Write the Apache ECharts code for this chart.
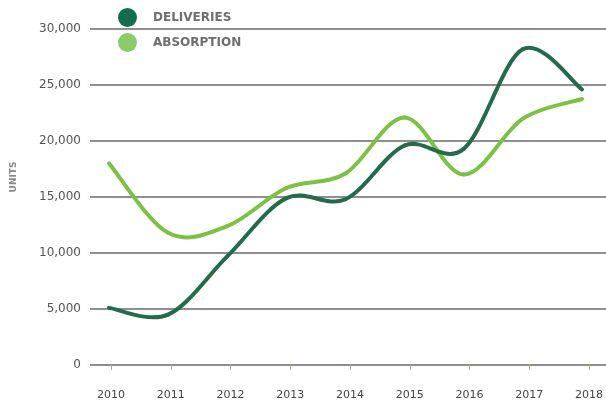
<!DOCTYPE html>
<html>
<head>
<meta charset="utf-8">
<script src="https://cdn.jsdelivr.net/npm/echarts@6/dist/echarts.min.js"></script>
<style>
  html, body { margin: 0; padding: 0; background: #fff; }
  #chart { width: 606px; height: 404px; }
</style>
</head>
<body>
<div id="chart"></div>
<script>
// Annual housing units: deliveries vs. absorption
const years = ['2010', '2011', '2012', '2013', '2014', '2015', '2016', '2017', '2018'];
const deliveries = [5100, 4500, 9700, 14900, 14800, 19600, 19300, 28200, 24600];
const absorption = [18000, 11800, 12400, 15800, 17100, 22100, 17000, 22000, 23750];
const yTicks = { min: 0, max: 30000, step: 5000 };

const DARK = '#246b4c';
const LIGHT = '#7cc143';
const FONT = 'DejaVu Sans';

// Cardinal-spline segment (1/6 tangent factor) between point i and i+1,
// with every point placed through the axis scales via api.coord.
function splineSegment(values, color) {
  return function (params, api) {
    const n = values.length;
    const i = params.dataIndex;
    if (i >= n - 1) return null;
    const p = k => {
      const j = Math.max(0, Math.min(n - 1, k));
      return api.coord([j, values[j]]);
    };
    const p0 = p(i - 1), p1 = p(i), p2 = p(i + 1), p3 = p(i + 2);
    const c1 = [p1[0] + (p2[0] - p0[0]) / 6, p1[1] + (p2[1] - p0[1]) / 6];
    const c2 = [p2[0] - (p3[0] - p1[0]) / 6, p2[1] - (p3[1] - p1[1]) / 6];
    return {
      type: 'bezierCurve',
      shape: { x1: p1[0], y1: p1[1], x2: p2[0], y2: p2[1], cpx1: c1[0], cpy1: c1[1], cpx2: c2[0], cpy2: c2[1] },
      style: { stroke: color, lineWidth: 4, fill: null, lineCap: 'round' },
      silent: true
    };
  };
}

const chart = echarts.init(document.getElementById('chart'), null, { renderer: 'canvas' });

chart.setOption({
  animation: false,
  backgroundColor: '#ffffff',
  legend: {
    orient: 'vertical',
    left: 118,
    top: 8,
    padding: 0,
    itemWidth: 19,
    itemHeight: 19,
    itemGap: 6,
    icon: 'circle',
    textStyle: {
      fontFamily: FONT,
      fontSize: 12,
      fontWeight: 'bold',
      color: '#6e6e6e',
      padding: [0, 0, 0, 11]
    },
    data: [
      { name: 'DELIVERIES', itemStyle: { color: '#136c4c' } },
      { name: 'ABSORPTION', itemStyle: { color: '#8bcb6a' } }
    ]
  },
  graphic: [{
    type: 'text',
    x: 14, y: 177,
    rotation: Math.PI / 2,
    style: {
      text: 'UNITS',
      fontFamily: FONT,
      fontSize: 9,
      fontWeight: 'bold',
      fill: '#888',
      align: 'center',
      verticalAlign: 'middle'
    }
  }],
  grid: [
    { left: 90, right: 0, top: 29, bottom: 39 },
    { left: 109, right: 24, top: 29, bottom: 39 },
    { left: 111, right: 11, top: 29, bottom: 39 }
  ],
  xAxis: [
    { gridIndex: 0, type: 'category', data: years, show: false },
    { gridIndex: 1, type: 'category', data: years, boundaryGap: false, show: false },
    {
      gridIndex: 2, type: 'category', data: years, boundaryGap: false,
      offset: 9,
      axisLine: { show: false },
      axisTick: { show: true, length: 5, lineStyle: { color: '#8cc96b', width: 1 } },
      axisLabel: { margin: 16, fontFamily: FONT, fontSize: 11, color: '#444' },
      splitLine: { show: false }
    }
  ],
  yAxis: [
    {
      gridIndex: 0, type: 'value',
      min: yTicks.min, max: yTicks.max, interval: yTicks.step,
      axisLine: { show: false },
      axisTick: { show: false },
      axisLabel: { margin: 9, fontFamily: FONT, fontSize: 12, color: '#555' },
      splitLine: { show: true, lineStyle: { color: '#6a6a6a', width: 1.5 } }
    },
    { gridIndex: 1, type: 'value', min: yTicks.min, max: yTicks.max, show: false },
    { gridIndex: 2, type: 'value', min: yTicks.min, max: yTicks.max, show: false }
  ],
  series: [
    {
      name: 'DELIVERIES',
      type: 'custom',
      xAxisIndex: 1, yAxisIndex: 1,
      data: deliveries.map((v, i) => [i, v]),
      renderItem: splineSegment(deliveries, DARK),
      itemStyle: { color: DARK },
      clip: false,
      z: 3
    },
    {
      name: 'ABSORPTION',
      type: 'custom',
      xAxisIndex: 1, yAxisIndex: 1,
      data: absorption.map((v, i) => [i, v]),
      renderItem: splineSegment(absorption, LIGHT),
      itemStyle: { color: LIGHT },
      clip: false,
      z: 2
    }
  ]
});
</script>
</body>
</html>
